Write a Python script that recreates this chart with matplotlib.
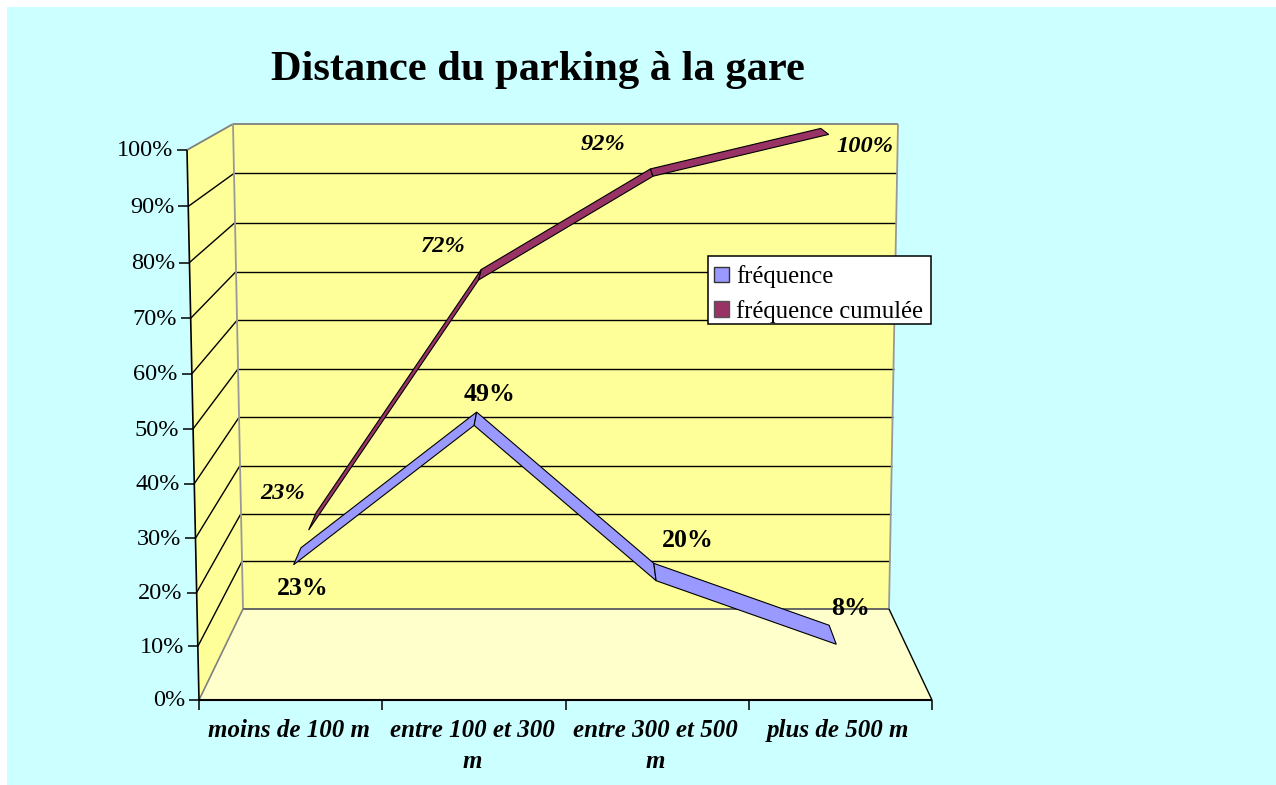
import numpy as np
import matplotlib
matplotlib.use('Agg')
import matplotlib.pyplot as plt
from matplotlib.patches import Patch, Polygon, Rectangle

plt.rcParams['font.family'] = ['Liberation Serif', 'DejaVu Serif']

# data
categories = ['moins de 100 m', 'entre 100 et 300\nm', 'entre 300 et 500\nm', 'plus de 500 m']
frequence = [0.23, 0.49, 0.20, 0.08]
cumulee = [0.23, 0.72, 0.92, 1.00]
freq_labels = ['23%', '49%', '20%', '8%']
cum_labels = ['23%', '72%', '92%', '100%']
y_ticks = [0.0, 0.1, 0.2, 0.3, 0.4, 0.5, 0.6, 0.7, 0.8, 0.9, 1.0]

# colours
BG = '#CCFFFF'
WALL = '#FFFF99'
FLOOR = '#FFFFCC'
BLUE = '#9999FF'
MAROON = '#993366'

W, H = 1276, 785

# depth bands of the two series, 0 = front of the box, 1 = back wall
FREQ_BAND = (0.15, 0.37)
CUM_BAND = (0.60, 0.83)

# label offsets from the series point, in pixels
FREQ_OFFSETS = [(9, 24), (15, -31), (32, -40), (14, -36)]
CUM_OFFSETS = [(-26, -37), (-35, -33), (-50, -32), (36, 12)]


def front_y(v):
    return 700 - 550 * v + 16 * v * (1 - v)


def back_y(v):
    return 609 - 485 * v + 10 * v * (1 - v)


def project(cat, v, depth):
    """Box coordinates (category position 0-1, value, depth) to picture pixels."""
    left = (199 - 12 * v) * (1 - depth) + (243 - 10 * v) * depth
    right = (932 + 12 * v) * (1 - depth) + (889 + 9 * v) * depth
    y = front_y(v) * (1 - depth) + back_y(v) * depth
    return left + cat * (right - left), y


def ribbon(ax, values, band, color):
    cats = [(i + 0.5) / len(values) for i in range(len(values))]
    for i in range(len(values) - 1):
        pts = [project(cats[i], values[i], band[0]),
               project(cats[i + 1], values[i + 1], band[0]),
               project(cats[i + 1], values[i + 1], band[1]),
               project(cats[i], values[i], band[1])]
        ax.add_patch(Polygon(pts, closed=True, facecolor=color, edgecolor='black', lw=0.8, zorder=3))


fig = plt.figure(figsize=(W / 100, H / 100), dpi=100, facecolor='white')
ax = fig.add_axes([0, 0, 1, 1])
ax.set_xlim(0, W)
ax.set_ylim(H, 0)
ax.axis('off')

ax.add_patch(Rectangle((7, 7), W - 7, H - 7, facecolor=BG, edgecolor='none', zorder=0))

# walls and floor
ax.add_patch(Polygon([project(0, 0, 0), project(1, 0, 0), project(1, 0, 1), project(0, 0, 1)],
                     facecolor=FLOOR, edgecolor='none', zorder=1))
ax.add_patch(Polygon([project(0, 0, 1), project(1, 0, 1), project(1, 1, 1), project(0, 1, 1)],
                     facecolor=WALL, edgecolor='none', zorder=1))
ax.add_patch(Polygon([project(0, 0, 0), project(0, 0, 1), project(0, 1, 1), project(0, 1, 0)],
                     facecolor=WALL, edgecolor='none', zorder=1))


def seg(p, q, color='black', lw=1.1, z=2):
    ax.plot([p[0], q[0]], [p[1], q[1]], color=color, lw=lw, zorder=z, solid_capstyle='butt')


# gridlines on both walls
for v in y_ticks[1:-1]:
    seg(project(0, v, 0), project(0, v, 1), lw=1.0)
    seg(project(0, v, 1), project(1, v, 1), lw=1.0)

# box edges
seg(project(0, 1, 0), project(0, 1, 1), '#808080', 1.3)
seg(project(0, 1, 1), project(1, 1, 1), '#808080', 1.3)
seg(project(0, 0, 1), project(0, 1, 1), '#999999', 1.3)
seg(project(1, 0, 1), project(1, 1, 1), '#999999', 1.3)
seg(project(0, 0, 1), project(1, 0, 1), '#666666', 1.4)
seg(project(0, 0, 0), project(0, 0, 1), '#808080', 1.2)
seg(project(1, 0, 0), project(1, 0, 1), 'black', 1.0)

# value axis
seg(project(0, 0, 0), project(0, 1, 0), 'black', 1.2)
for v in y_ticks:
    x, y = project(0, v, 0)
    seg((x - 10, y), (x, y), 'black', 1.1)
    ax.text(x - 14, y + 1, f'{v:.0%}', ha='right', va='center', fontsize=17.5, color='black', zorder=4)

# category axis
seg(project(0, 0, 0), project(1, 0, 0), 'black', 1.5)
for i in range(len(categories) + 1):
    x, y = project(i / len(categories), 0, 0)
    seg((x, y), (x, y + 10), 'black', 1.1)
for i, name in enumerate(categories):
    x, y = project((i + 0.5) / len(categories), 0, 0)
    ax.text(x - 2, y + 19, name, ha='center', va='top', fontsize=18, fontweight='bold', fontstyle='italic',
            linespacing=1.42, zorder=4)

# series, back one first
ribbon(ax, cumulee, CUM_BAND, MAROON)
ribbon(ax, frequence, FREQ_BAND, BLUE)

# data labels
for i, lab in enumerate(freq_labels):
    x, y = project((i + 0.5) / len(categories), frequence[i], FREQ_BAND[0])
    ax.text(x + FREQ_OFFSETS[i][0], y + FREQ_OFFSETS[i][1], lab, ha='center', va='center',
            fontsize=18.6, fontweight='bold', zorder=5)
for i, lab in enumerate(cum_labels):
    x, y = project((i + 0.5) / len(categories), cumulee[i], CUM_BAND[0])
    ax.text(x + CUM_OFFSETS[i][0], y + CUM_OFFSETS[i][1], lab, ha='center', va='center',
            fontsize=17.6, fontweight='bold', fontstyle='italic', zorder=5)

ax.text(538, 70, 'Distance du parking à la gare', ha='center', va='center',
        fontsize=30.6, fontweight='bold', zorder=5)

# legend box drawn apart so the entries can sit a little lower in it
ax.add_patch(Rectangle((708, 256), 223, 68, facecolor='white', edgecolor='black', lw=1.1, zorder=6))
handles = [Patch(facecolor=BLUE, edgecolor='#333333', label='fréquence'),
           Patch(facecolor=MAROON, edgecolor='#555555', label='fréquence cumulée')]
leg = ax.legend(handles=handles, loc='upper left', bbox_to_anchor=(708, 259), bbox_transform=ax.transData,
                fontsize=17.7, frameon=False, borderaxespad=0,
                handlelength=0.62, handleheight=0.62, handletextpad=0.26, labelspacing=0.47,
                borderpad=0.25)
leg.set_zorder(7)

fig.savefig('out.png', dpi=100, facecolor='white')
